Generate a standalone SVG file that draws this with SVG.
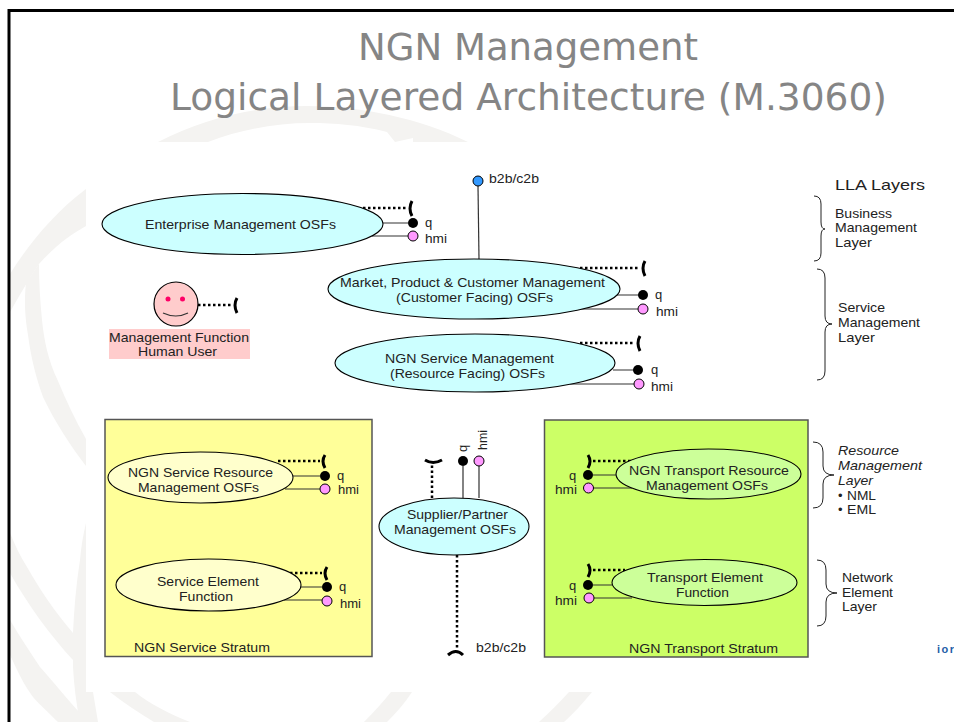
<svg xmlns="http://www.w3.org/2000/svg" width="954" height="722" viewBox="0 0 954 722">
<style>
text{font-family:"Liberation Sans",Arial,sans-serif;font-size:13px;fill:#222}
.t{font-family:"DejaVu Sans",Verdana,sans-serif;font-size:38px;fill:#858585}
.wm{fill:#f4f3f1}
.e{stroke:#000;stroke-width:1.1}
.cy{fill:#ccffff}.ly{fill:#ffffcc}.lg{fill:#ccff99}
.box{stroke:#555;stroke-width:1.5}
.ln{stroke:#333;stroke-width:1.2;fill:none}
.dot{stroke:#000;stroke-width:2.5;stroke-dasharray:2.5 2.5;fill:none}
.par{stroke:#000;stroke-width:3;fill:none}
.q{fill:#000}
.h{fill:#ff99ff;stroke:#000;stroke-width:1}
.br{stroke:#222;stroke-width:1;fill:none}
</style>
<rect width="954" height="722" fill="#fff"/>
<g id="watermark">
<path class="wm" d="M158 142C205 118 255 106 307 106C360 106 420 118 468 142L413 142L413 138L395 142L387 132C360 125 335 123 310 123C275 123 240 130 208 142Z"/>
<path class="wm" d="M86 189C55 212 28 245 10 274L10 312C20 295 28 280 39 264C55 246 70 235 86 226Z"/>
<path class="wm" d="M26 283C24 300 25 318 28 335C31 358 36 378 43 397C55 422 70 445 86 466L86 439C75 420 66 400 58 381C48 360 44 340 42 320C40 300 39 282 39 264Z"/>
<path class="wm" d="M10 533C15 545 20 556 27 567C40 590 55 612 73 633L73 660C50 635 28 605 10 573Z"/>
<path class="wm" d="M86 523C83 535 81 548 80 560C76 585 74 610 73 633L73 667C74 685 76 703 80 722L98 722L93 692L86 692Z"/>
<path class="wm" d="M10 620C20 637 30 652 40 667C55 684 68 700 80 713L88 722L58 722C48 712 40 705 33 697C24 685 17 670 10 655Z"/>
<path class="wm" d="M110 692L135 692C150 704 170 714 190 722L154 722C138 712 124 703 110 692Z"/>
<path class="wm" d="M391 692L412 692C405 703 396 713 387 722L364 722C374 712 383 702 391 692Z"/>
<path class="wm" d="M569 692L592 692C583 703 574 713 564 722L539 722C550 712 560 702 569 692Z"/>
<rect x="86" y="142" width="868" height="550" fill="#fff"/>
</g>
<path id="frame" d="M9 722V10.500H954" fill="none" stroke="#000" stroke-width="3"/>
<g id="title">
<text class="t" x="358" y="60" textLength="340" lengthAdjust="spacingAndGlyphs">NGN Management</text>
<text class="t" x="170" y="110" textLength="717" lengthAdjust="spacingAndGlyphs">Logical Layered Architecture (M.3060)</text>
</g>
<g id="service-stratum"><rect class="box" x="105" y="419.500" width="267" height="237" fill="#ffff99"/>
<text x="134" y="652" textLength="136" lengthAdjust="spacingAndGlyphs">NGN Service Stratum</text></g>
<g id="transport-stratum"><rect class="box" x="544.500" y="420" width="263.500" height="237" fill="#ccff66"/>
<text x="629" y="653" textLength="149" lengthAdjust="spacingAndGlyphs">NGN Transport Stratum</text></g>
<g id="connectors">
<path class="ln" d="M478 186L479 259"/>
<path class="dot" d="M363 208H408M580 268H640M580 343H635M198 305H232M278 461H320M290 573H322M593 461H632M593 570H625M432 498V465M457 555V648"/>
<path class="par" d="M412 201Q408 208.500 412 216M645 261Q641 268 645 276M640 336Q636 343 640 351M237 298Q233 305 237 313M325 455Q321 461 325 468M327 567Q323 573 327 580M588 455Q592 461 588 468M588 564Q592 570 588 577M425 460Q433 465 442 460M448 655Q456 648 463 655"/>
<path class="ln" d="M383 223H408M372 236H408M617 295H640M580 309H640M613 370H635M570 384H635M293 476H320M285 489H320M301 587H322M284 600H322M593 475H616M593 488H632M593 585H612M594 598H632M463 466V498M479 466V498"/>
</g>
<g id="enterprise"><ellipse class="e cy" cx="242.500" cy="224" rx="140.500" ry="30.500"/>
<text x="145" y="229" textLength="191" lengthAdjust="spacingAndGlyphs">Enterprise Management OSFs</text>
<circle class="q" cx="413" cy="223" r="5"/><circle class="h" cx="413" cy="236" r="5"/>
<text x="425" y="227">q</text><text x="425" y="243" textLength="22" lengthAdjust="spacingAndGlyphs">hmi</text></g>
<g id="market"><ellipse class="e cy" cx="474" cy="289" rx="146" ry="30"/>
<text x="340" y="287" textLength="265" lengthAdjust="spacingAndGlyphs">Market, Product &amp; Customer Management</text>
<text x="396" y="302" textLength="157" lengthAdjust="spacingAndGlyphs">(Customer Facing) OSFs</text>
<circle class="q" cx="643" cy="295" r="5"/><circle class="h" cx="643" cy="309" r="5"/>
<text x="655" y="299">q</text><text x="656" y="316" textLength="22" lengthAdjust="spacingAndGlyphs">hmi</text></g>
<g id="ngn-service"><ellipse class="e cy" cx="475" cy="363" rx="140" ry="29"/>
<text x="385" y="363" textLength="169" lengthAdjust="spacingAndGlyphs">NGN Service Management</text>
<text x="390" y="378" textLength="155" lengthAdjust="spacingAndGlyphs">(Resource Facing) OSFs</text>
<circle class="q" cx="638" cy="370" r="5"/><circle class="h" cx="639" cy="384" r="5"/>
<text x="651" y="374">q</text><text x="651" y="391" textLength="22" lengthAdjust="spacingAndGlyphs">hmi</text></g>
<g id="b2b-top"><circle cx="478" cy="181" r="5" fill="#3399ff" stroke="#000"/>
<text x="489" y="183" textLength="50" lengthAdjust="spacingAndGlyphs">b2b/c2b</text></g>
<g id="human"><circle cx="176" cy="304" r="22" fill="#ffcccc" stroke="#000" stroke-width="1.2"/>
<circle cx="168" cy="299" r="2.500" fill="#ff0066"/><circle cx="182.500" cy="299" r="2.500" fill="#ff0066"/>
<path class="ln" d="M163 313Q176 319 188 313"/>
<rect x="109" y="329" width="141" height="30" fill="#ffcccc"/>
<text x="109" y="342" textLength="140" lengthAdjust="spacingAndGlyphs">Management Function</text>
<text x="138" y="356" textLength="79" lengthAdjust="spacingAndGlyphs">Human User</text></g>
<g id="service-resource"><ellipse class="e ly" cx="200.500" cy="477.500" rx="92.500" ry="25.500"/>
<text x="128" y="477" textLength="145" lengthAdjust="spacingAndGlyphs">NGN Service Resource</text>
<text x="138" y="492" textLength="121" lengthAdjust="spacingAndGlyphs">Management OSFs</text>
<circle class="q" cx="325" cy="476" r="5"/><circle class="h" cx="325" cy="489" r="5"/>
<text x="337" y="480">q</text><text x="338" y="494" textLength="21" lengthAdjust="spacingAndGlyphs">hmi</text></g>
<g id="service-element"><ellipse class="e ly" cx="208.500" cy="585" rx="92.500" ry="26"/>
<text x="157" y="586" textLength="102" lengthAdjust="spacingAndGlyphs">Service Element</text>
<text x="179" y="601" textLength="54" lengthAdjust="spacingAndGlyphs">Function</text>
<circle class="q" cx="327" cy="587" r="5"/><circle class="h" cx="327" cy="601" r="5"/>
<text x="339" y="591">q</text><text x="340" y="608" textLength="21" lengthAdjust="spacingAndGlyphs">hmi</text></g>
<g id="supplier"><ellipse class="e cy" cx="454" cy="526.500" rx="75" ry="28.500"/>
<text x="407" y="519" textLength="101" lengthAdjust="spacingAndGlyphs">Supplier/Partner</text>
<text x="394" y="534" textLength="122" lengthAdjust="spacingAndGlyphs">Management OSFs</text>
<circle class="q" cx="463" cy="461" r="5"/><circle class="h" cx="479" cy="461" r="5"/>
<text transform="translate(467 452) rotate(-90)">q</text>
<text transform="translate(487 450) rotate(-90)" textLength="20" lengthAdjust="spacingAndGlyphs">hmi</text>
<text x="476" y="652" textLength="50" lengthAdjust="spacingAndGlyphs">b2b/c2b</text></g>
<g id="transport-resource"><ellipse class="e lg" cx="708.500" cy="474" rx="92.500" ry="25"/>
<text x="629" y="475" textLength="160" lengthAdjust="spacingAndGlyphs">NGN Transport Resource</text>
<text x="646" y="490" textLength="122" lengthAdjust="spacingAndGlyphs">Management OSFs</text>
<circle class="q" cx="588" cy="475" r="5"/><circle class="h" cx="588.500" cy="488" r="5"/>
<text x="569" y="480">q</text><text x="555" y="494" textLength="22" lengthAdjust="spacingAndGlyphs">hmi</text></g>
<g id="transport-element"><ellipse class="e lg" cx="704.500" cy="582.500" rx="92.500" ry="23"/>
<text x="647" y="582" textLength="116" lengthAdjust="spacingAndGlyphs">Transport Element</text>
<text x="676" y="597" textLength="53" lengthAdjust="spacingAndGlyphs">Function</text>
<circle class="q" cx="588" cy="585" r="5"/><circle class="h" cx="589" cy="598" r="5"/>
<text x="569" y="590">q</text><text x="555" y="605" textLength="22" lengthAdjust="spacingAndGlyphs">hmi</text></g>
<g id="lla-layers">
<text x="835" y="190" style="font-size:15px" textLength="90" lengthAdjust="spacingAndGlyphs">LLA Layers</text>
<path class="br" d="M814 196Q821 196 821 204V222Q821 229 825 229Q821 229 821 236V253Q821 261 814 261"/>
<text x="835" y="218" textLength="57" lengthAdjust="spacingAndGlyphs">Business</text>
<text x="835" y="232" textLength="82" lengthAdjust="spacingAndGlyphs">Management</text>
<text x="835" y="247" textLength="37" lengthAdjust="spacingAndGlyphs">Layer</text>
<path class="br" d="M817 269Q825 269 825 278V316Q825 324 832 324Q825 324 825 332V371Q825 380 817 380"/>
<text x="838" y="312" textLength="47" lengthAdjust="spacingAndGlyphs">Service</text>
<text x="838" y="327" textLength="82" lengthAdjust="spacingAndGlyphs">Management</text>
<text x="838" y="342" textLength="37" lengthAdjust="spacingAndGlyphs">Layer</text>
<path class="br" d="M813 442Q823 442 823 452V466Q823 475 834 475Q823 475 823 484V498Q823 508 813 508"/>
<g font-style="italic">
<text x="838" y="455" textLength="61" lengthAdjust="spacingAndGlyphs">Resource</text>
<text x="838" y="470" textLength="84" lengthAdjust="spacingAndGlyphs">Management</text>
<text x="838" y="485" textLength="35" lengthAdjust="spacingAndGlyphs">Layer</text>
</g>
<text x="838" y="500">•</text><text x="847" y="500" textLength="29" lengthAdjust="spacingAndGlyphs">NML</text>
<text x="838" y="514">•</text><text x="847" y="514" textLength="29" lengthAdjust="spacingAndGlyphs">EML</text>
<path class="br" d="M817 560Q826 560 826 570V584Q826 593 837 593Q826 593 826 602V616Q826 626 817 626"/>
<text x="842" y="582" textLength="51" lengthAdjust="spacingAndGlyphs">Network</text>
<text x="842" y="597" textLength="51" lengthAdjust="spacingAndGlyphs">Element</text>
<text x="842" y="611" textLength="35" lengthAdjust="spacingAndGlyphs">Layer</text>
</g>
<text id="edge-text" x="937" y="653" style="font-size:11px;font-weight:bold;fill:#1f5fa8;letter-spacing:1.5px">ior</text>
</svg>
